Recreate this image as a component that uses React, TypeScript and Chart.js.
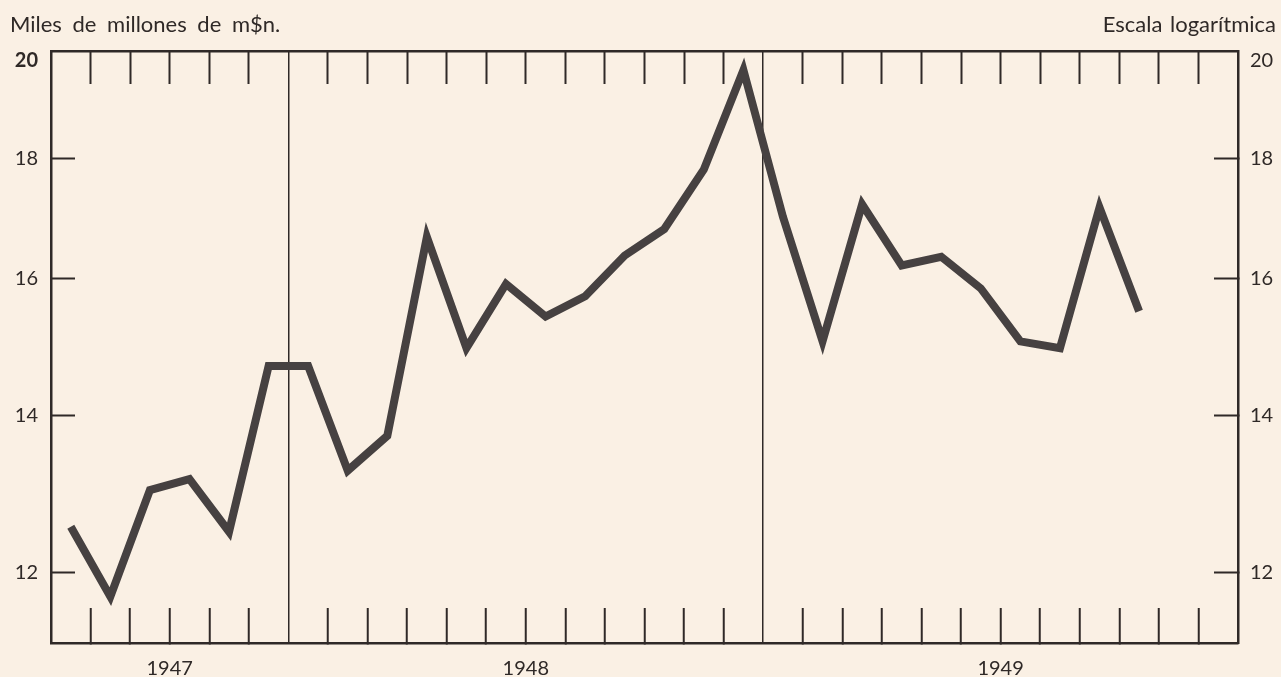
import React, { useEffect, useRef } from 'react';
import { Chart, registerables } from 'chart.js';

Chart.register(...registerables);

// Months shown: Jul 1947 .. Dec 1949
const months: string[] = [
  'Jul 1947', 'Ago 1947', 'Sep 1947', 'Oct 1947', 'Nov 1947', 'Dic 1947',
  'Ene 1948', 'Feb 1948', 'Mar 1948', 'Abr 1948', 'May 1948', 'Jun 1948',
  'Jul 1948', 'Ago 1948', 'Sep 1948', 'Oct 1948', 'Nov 1948', 'Dic 1948',
  'Ene 1949', 'Feb 1949', 'Mar 1949', 'Abr 1949', 'May 1949', 'Jun 1949',
  'Jul 1949', 'Ago 1949', 'Sep 1949', 'Oct 1949', 'Nov 1949', 'Dic 1949',
];

// Miles de millones de m$n.
const values: (number | null)[] = [
  12.55, 11.72, 13.01, 13.15, 12.49, 14.69,
  14.69, 13.26, 13.72, 16.67, 14.95, 15.92,
  15.42, 15.73, 16.37, 16.80, 17.81, 19.63,
  17.0, 15.05, 17.21, 16.21, 16.35, 15.85,
  15.05, 14.95, 17.16, 15.50, null, null,
];

const yearLabels: string[] = ['1947', '1948', '1949'];
const yearLabelAt: number[] = [3, 12, 24];     // month-boundary index where the year label sits
const yearBoundaries: number[] = [6, 18];       // month-boundary index of year change
const yTickValues: number[] = [12, 14, 16, 18, 20];
const yMin = 11.24;
const yMax = 20;

const leftTitle = 'Miles de millones de m$n.';
const rightTitle = 'Escala logarítmica';

const FONT = 'Lato, "DejaVu Sans", sans-serif';
const INK = '#2f2927';
const LINE = '#464141';
const BG = '#faf0e4';
const CLEAR = 'rgba(0,0,0,0)';

const fixSize = (w: number | null, h: number | null) => (s: any) => {
  if (w !== null) s.width = w;
  if (h !== null) s.height = h;
  s.paddingTop = 0;
  s.paddingBottom = 0;
  s.paddingLeft = 0;
  s.paddingRight = 0;
};

export default function App() {
  const canvasRef = useRef<HTMLCanvasElement | null>(null);

  useEffect(() => {
    const canvas = canvasRef.current;
    if (!canvas) return;
    const nBoundaries = months.length;
    const monthBoundaryTicks = () => months.map((_, i) => ({ value: i })).concat([{ value: nBoundaries }]);

    const headerPlugin = {
      id: 'headerTexts',
      afterDraw(chart: any) {
        const ctx = chart.ctx;
        ctx.save();
        ctx.fillStyle = INK;
        ctx.font = `22px ${FONT}`;
        ctx.textBaseline = 'alphabetic';
        ctx.textAlign = 'left';
        try { (ctx as any).wordSpacing = '5px'; } catch (e) { /* ignore */ }
        ctx.fillText(leftTitle, 10, 32);
        try { (ctx as any).wordSpacing = '2px'; } catch (e) { /* ignore */ }
        ctx.textAlign = 'right';
        ctx.fillText(rightTitle, 1276, 32);
        ctx.restore();
      },
    };

    const yLabel = (v: any) => (Number(v) === yMax ? ['', String(v)] : String(v));

    const chart = new Chart(canvas, {
      type: 'line',
      data: {
        datasets: [
          {
            label: 'Serie',
            data: values.map((v, i) => ({ x: i + 0.5, y: v })) as any,
            borderColor: LINE,
            borderWidth: 8,
            borderJoinStyle: 'miter',
            borderCapStyle: 'butt',
            pointRadius: 0,
            pointHoverRadius: 0,
            tension: 0,
            spanGaps: false,
            fill: false,
          },
        ],
      },
      options: {
        animation: false,
        responsive: false,
        maintainAspectRatio: false,
        layout: { padding: 0, autoPadding: false },
        plugins: {
          legend: { display: false },
          tooltip: { enabled: false },
          title: { display: false },
        },
        scales: {
          x: {
            type: 'linear',
            position: 'bottom',
            min: 0,
            max: nBoundaries,
            afterBuildTicks: (s: any) => { s.ticks = monthBoundaryTicks(); },
            afterFit: fixSize(null, 34),
            ticks: {
              autoSkip: false,
              maxRotation: 0,
              padding: 49,
              color: INK,
              font: { family: FONT, size: 20 },
              callback: (v: any) => {
                const k = yearLabelAt.indexOf(Number(v));
                return k >= 0 ? yearLabels[k] : '';
              },
            },
            grid: {
              drawOnChartArea: true,
              color: (c: any) => (c.tick && yearBoundaries.includes(c.tick.value) ? INK : CLEAR),
              lineWidth: 1.5,
              tickLength: -35,
              tickWidth: 2,
              tickColor: (c: any) => {
                const v = c.tick ? c.tick.value : -1;
                return v === 0 || v === nBoundaries || yearBoundaries.includes(v) ? CLEAR : INK;
              },
            },
            border: { display: true, color: INK, width: 2.5 },
          },
          xTop: {
            type: 'linear',
            position: 'top',
            min: 0,
            max: nBoundaries,
            afterBuildTicks: (s: any) => { s.ticks = monthBoundaryTicks(); },
            afterFit: fixSize(null, 51),
            ticks: { display: false, autoSkip: false },
            grid: {
              drawOnChartArea: false,
              tickLength: -33,
              tickWidth: 2,
              tickColor: (c: any) => {
                const v = c.tick ? c.tick.value : -1;
                return v === 0 || v === nBoundaries || yearBoundaries.includes(v) ? CLEAR : INK;
              },
            },
            border: { display: true, color: INK, width: 2.5 },
          },
          y: {
            type: 'logarithmic',
            position: 'left',
            min: yMin,
            max: yMax,
            afterBuildTicks: (s: any) => { s.ticks = yTickValues.map((v) => ({ value: v })); },
            afterFit: fixSize(51, null),
            ticks: {
              autoSkip: false,
              padding: 37,
              color: INK,
              font: (c: any) => ({
                family: FONT,
                size: 20,
                weight: c.tick && c.tick.value === yMax ? 'bold' : 'normal',
                lineHeight: 1.0,
              }),
              callback: yLabel,
            },
            grid: {
              drawOnChartArea: false,
              tickLength: -24,
              tickWidth: 2,
              tickColor: (c: any) => (c.tick && c.tick.value === yMax ? CLEAR : INK),
            },
            border: { display: true, color: INK, width: 2.5 },
          },
          y2: {
            type: 'logarithmic',
            position: 'right',
            min: yMin,
            max: yMax,
            afterBuildTicks: (s: any) => { s.ticks = yTickValues.map((v) => ({ value: v })); },
            afterFit: fixSize(43, null),
            ticks: {
              autoSkip: false,
              padding: 36,
              color: INK,
              font: { family: FONT, size: 20, lineHeight: 1.0 },
              callback: yLabel,
            },
            grid: {
              drawOnChartArea: false,
              tickLength: -24,
              tickWidth: 2,
              tickColor: (c: any) => (c.tick && c.tick.value === yMax ? CLEAR : INK),
            },
            border: { display: true, color: INK, width: 2.5 },
          },
        },
      } as any,
      plugins: [headerPlugin],
    });

    return () => {
      chart.destroy();
    };
  }, []);

  return (
    <div
      style={{
        position: 'fixed',
        left: 0,
        top: 0,
        width: 1281,
        height: 677,
        background: BG,
        overflow: 'hidden',
      }}
    >
      <canvas ref={canvasRef} width={1281} height={677} style={{ display: 'block' }} />
    </div>
  );
}
